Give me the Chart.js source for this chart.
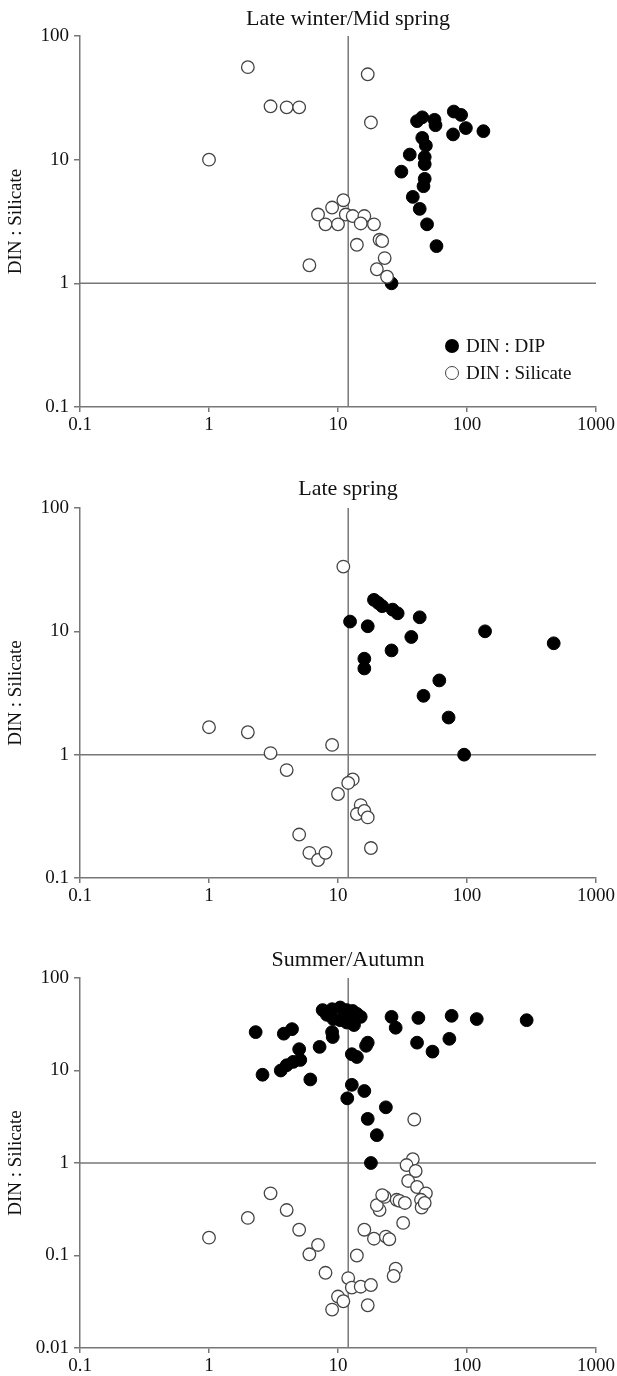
<!DOCTYPE html>
<html lang="en">
<head>
    <meta charset="UTF-8">
    <title>DIN ratios by season</title>
    <script src="https://cdn.jsdelivr.net/npm/chart.js"></script>
    <style>
        body {
            margin: 0;
            width: 617px;
            height: 1376px;
            position: relative;
            overflow: hidden;
            background: #fff;
            font-family: "Liberation Serif", "Times New Roman", serif;
            color: #111;
        }

        canvas {
            position: absolute;
            left: 0;
        }

        .title {
            position: absolute;
            transform: translate(-50%, -50%);
            font-size: 22px;
            white-space: nowrap;
        }

        .legend {
            position: absolute;
            left: 445px;
            top: 333px;
            font-size: 19px;
        }

        .legend .row {
            display: flex;
            align-items: center;
            height: 26.6px;
        }

        .legend .dot {
            width: 14px;
            height: 14px;
            border-radius: 50%;
            box-sizing: border-box;
            margin-right: 7px;
        }
    </style>
</head>
<body>
<canvas id="c1" width="617" height="440" style="top:0px"></canvas>
<canvas id="c2" width="617" height="475" style="top:440px"></canvas>
<canvas id="c3" width="617" height="461" style="top:915px"></canvas>

<div class="title" style="left:348px; top:18px">Late winter/Mid spring</div>
<div class="title" style="left:348px; top:488px">Late spring</div>
<div class="title" style="left:348px; top:959px">Summer/Autumn</div>

<div class="legend">
    <div class="row"><span class="dot" style="background:#000"></span>DIN : DIP</div>
    <div class="row"><span class="dot" style="background:#fff; border:1.3px solid #444"></span>DIN : Silicate</div>
</div>

<script>
    const xTicks = [0.1, 1, 10, 100, 1000];
    const xTickLabels = ['0.1', '1', '10', '100', '1000'];
    const yTicksSpring = [0.1, 1, 10, 100];
    const yTickLabelsSpring = ['0.1', '1', '10', '100'];
    const yTicksSummer = [0.01, 0.1, 1, 10, 100];
    const yTickLabelsSummer = ['0.01', '0.1', '1', '10', '100'];
    const refX = 12;   // vertical guide
    const refY = 1;    // horizontal guide

    // Late winter / mid spring
    const winterDip = [
        [26, 1.0], [58, 2.0], [49, 3.0], [43, 4.0], [38, 5.0], [46, 6.1], [47, 7.0], [31, 8.0],
        [47, 9.2], [47, 10.5], [36, 11], [48, 13], [45, 15], [41, 20.5], [45, 22], [56, 21],
        [57, 19], [79, 24.5], [90, 23], [98, 18], [78, 16], [134, 17]
    ];
    const winterSil = [
        [2, 56], [3, 27], [4, 26.5], [5, 26.5], [17, 49], [18, 20], [1, 10], [11, 4.7],
        [9, 4.1], [7, 3.6], [8, 3.0], [10, 3.0], [11.5, 3.6], [13, 3.5], [16, 3.5], [15, 3.05],
        [19, 3.0], [14, 2.05], [21, 2.25], [22, 2.2], [23, 1.6], [20, 1.3], [24, 1.13], [6, 1.4]
    ];

    // Late spring
    const springDip = [
        [19, 18], [20.5, 17], [22, 16], [26.5, 15], [29, 14], [12.4, 12], [17, 11], [43, 13],
        [37, 9], [138, 10], [470, 8], [26, 7], [16, 6], [16, 5], [61, 4], [46, 3], [72, 2], [95, 1]
    ];
    const springSil = [
        [1, 1.67], [2, 1.52], [3, 1.03], [4, 0.75], [5, 0.225], [6, 0.16], [11, 33.5], [9, 1.2],
        [13, 0.63], [12, 0.59], [10, 0.48], [15, 0.39], [14, 0.33], [16, 0.35], [17, 0.31],
        [18, 0.175], [7, 0.14], [8, 0.16]
    ];

    // Summer / autumn
    const summerDip = [
        [2.3, 26], [2.6, 9], [3.6, 10], [3.8, 25], [4.4, 28], [4.0, 11.4], [4.5, 12.4], [5.1, 13],
        [5.0, 17], [6.1, 8], [7.2, 18], [7.6, 45], [9.0, 46], [10.4, 48], [11.7, 45], [14, 41],
        [15, 38], [9.2, 36], [10.4, 35], [11.7, 33], [13.3, 31], [12.5, 40], [13, 44], [8.2, 40],
        [9.0, 26], [9.1, 23], [12.8, 15], [14, 14], [17, 20], [16.5, 18.5], [26, 38], [28, 29],
        [42, 37], [41, 20], [76, 39], [119, 36], [290, 35], [73, 22], [54, 16], [12.8, 7],
        [16, 6], [11.8, 5], [23.5, 4], [17, 3], [20, 2], [18, 1]
    ];
    const summerSil = [
        [1, 0.156], [2, 0.255], [3, 0.47], [4, 0.31], [5, 0.19], [7, 0.13], [6, 0.103], [8, 0.065],
        [14, 0.1], [12, 0.057], [12.8, 0.045], [15, 0.046], [18, 0.048], [10, 0.036], [11, 0.032],
        [9, 0.026], [17, 0.029], [28, 0.072], [27, 0.06], [16, 0.19], [19, 0.152], [23.5, 0.16],
        [25, 0.15], [32, 0.225], [21, 0.31], [20, 0.35], [23, 0.43], [22, 0.45], [28.5, 0.40],
        [30, 0.39], [33, 0.37], [38, 1.1], [34, 0.95], [40, 0.82], [35, 0.64], [41, 0.55],
        [48, 0.47], [44, 0.4], [44.5, 0.33], [47, 0.37], [39, 2.95]
    ];

    const serif = '"Liberation Serif", "Times New Roman", serif';
    const axisGrey = '#777';

    function toPoints(list) {
        return list.map(p => ({x: p[0], y: p[1]}));
    }

    function logAxis(ticks, labels, fit, tickLength, padding, title) {
        return {
            type: 'logarithmic',
            min: ticks[0],
            max: ticks[ticks.length - 1],
            afterBuildTicks: s => { s.ticks = ticks.map(v => ({value: v})); },
            afterFit: s => {
                fit(s);
                s.paddingLeft = 0; s.paddingRight = 0; s.paddingTop = 0; s.paddingBottom = 0;
            },
            ticks: {
                callback: (v, i) => labels[i],
                autoSkip: false,
                maxRotation: 0,
                padding: padding,
                color: '#111',
                font: {family: serif, size: 19}
            },
            grid: {drawOnChartArea: false, drawTicks: true, tickLength: tickLength, color: axisGrey, lineWidth: 1.5},
            border: {display: true, color: axisGrey, width: 1.5},
            title: title || {display: false}
        };
    }

    function makeChart(id, dip, sil, yTicks, yLabels, padTop, xHeight) {
        const yMin = yTicks[0], yMax = yTicks[yTicks.length - 1];
        new Chart(document.getElementById(id), {
            type: 'scatter',
            data: {
                datasets: [
                    {
                        label: 'DIN : Silicate', data: toPoints(sil),
                        backgroundColor: '#fff', borderColor: '#444', borderWidth: 1.3, pointRadius: 6.3
                    },
                    {
                        label: 'DIN : DIP', data: toPoints(dip),
                        backgroundColor: '#000', borderColor: '#000', borderWidth: 1, pointRadius: 6.4
                    },
                    {
                        data: [{x: refX, y: yMin}, {x: refX, y: yMax}],
                        showLine: true, pointRadius: 0, borderColor: axisGrey, borderWidth: 1.5
                    },
                    {
                        data: [{x: xTicks[0], y: refY}, {x: xTicks[xTicks.length - 1], y: refY}],
                        showLine: true, pointRadius: 0, borderColor: axisGrey, borderWidth: 1.5
                    }
                ]
            },
            options: {
                responsive: false,
                animation: false,
                layout: {padding: {top: padTop, left: 0, right: 21, bottom: 0}},
                plugins: {
                    legend: {display: false},
                    tooltip: {enabled: false}
                },
                scales: {
                    x: logAxis(xTicks, xTickLabels, s => { s.height = xHeight; }, 5, 2),
                    y: logAxis(yTicks, yLabels, s => { s.width = 80; }, 6, 5, {
                        display: true,
                        text: 'DIN : Silicate',
                        color: '#111',
                        font: {family: serif, size: 19},
                        padding: {top: 5, bottom: 0}
                    })
                }
            }
        });
    }

    makeChart('c1', winterDip, winterSil, yTicksSpring, yTickLabelsSpring, 36, 33);
    makeChart('c2', springDip, springSil, yTicksSpring, yTickLabelsSpring, 68, 37);
    makeChart('c3', summerDip, summerSil, yTicksSummer, yTickLabelsSummer, 63, 28);
</script>
</body>
</html>
